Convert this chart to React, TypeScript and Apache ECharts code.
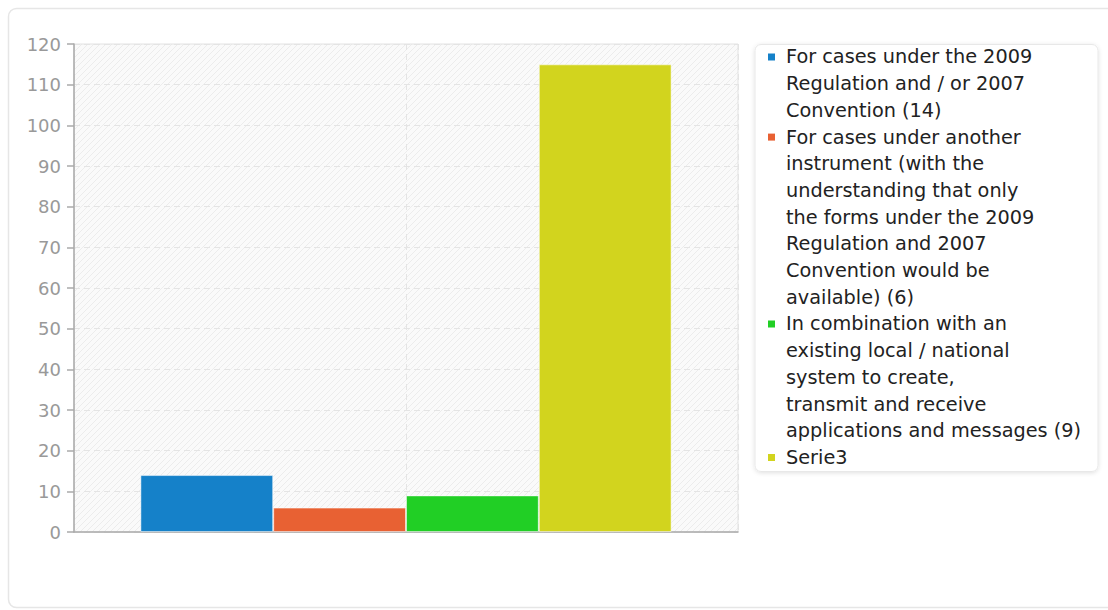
import React, { useEffect, useRef } from "react";
import * as echarts from "echarts";

const categories: string[] = [""];
const seriesNames: string[] = [
  "For cases under the 2009 Regulation and / or 2007 Convention (14)",
  "For cases under another instrument (with the understanding that only the forms under the 2009 Regulation and 2007 Convention would be available) (6)",
  "In combination with an existing local / national system to create, transmit and receive applications and messages (9)",
  "Serie3",
];
const legendLines: string[][] = [
  ["For cases under the 2009", "Regulation and / or 2007", "Convention (14)"],
  [
    "For cases under another",
    "instrument (with the",
    "understanding that only",
    "the forms under the 2009",
    "Regulation and 2007",
    "Convention would be",
    "available) (6)",
  ],
  [
    "In combination with an",
    "existing local / national",
    "system to create,",
    "transmit and receive",
    "applications and messages (9)",
  ],
  ["Serie3"],
];
const seriesValues: number[][] = [[14], [6], [9], [115]];
const seriesColors: string[] = ["#1581C9", "#E86133", "#21CF25", "#D2D41E"];
const yTicks = { min: 0, max: 120, interval: 10 };

const FONT = "'DejaVu Sans', sans-serif";

function makeHatch(): HTMLCanvasElement {
  const c = document.createElement("canvas");
  c.width = 6;
  c.height = 6;
  const ctx = c.getContext("2d")!;
  ctx.fillStyle = "#fafafa";
  ctx.fillRect(0, 0, 6, 6);
  ctx.strokeStyle = "#ececec";
  ctx.lineWidth = 1;
  ctx.beginPath();
  ctx.moveTo(-1, 7);
  ctx.lineTo(7, -1);
  ctx.moveTo(-4, 4);
  ctx.lineTo(4, -4);
  ctx.moveTo(2, 10);
  ctx.lineTo(10, 2);
  ctx.stroke();
  return c;
}

export default function App() {
  const ref = useRef<HTMLDivElement>(null);
  useEffect(() => {
    if (!ref.current) return;
    const chart = echarts.init(ref.current, undefined, { renderer: "svg" });
    const hatch = makeHatch();

    const lineH = 26.7;
    const firstCenter = 57;
    const legendGraphics: any[] = [];
    let lineIdx = 0;
    legendLines.forEach((lines, i) => {
      const center = firstCenter + lineIdx * lineH;
      legendGraphics.push({
        type: "rect",
        shape: { x: 768, y: center - 3.5, width: 7, height: 7 },
        style: { fill: seriesColors[i] },
        z: 12,
      });
      legendGraphics.push({
        type: "text",
        x: 786,
        y: center - lineH / 2,
        style: {
          text: lines.join("\n"),
          font: `19.3px ${FONT}`,
          fill: "#222",
          lineHeight: lineH,
          verticalAlign: "top",
          align: "left",
        },
        z: 12,
      });
      lineIdx += lines.length;
    });

    chart.setOption({
      animation: false,
      backgroundColor: "#fff",
      textStyle: { fontFamily: FONT },
      grid: {
        left: 74,
        right: 370,
        top: 44,
        bottom: 78,
        show: true,
        backgroundColor: { image: hatch, repeat: "repeat", imageWidth: 6, imageHeight: 6 } as any,
        borderColor: "#e2e2e2",
        borderWidth: 1,
      },
      xAxis: [
        {
          type: "category",
          data: categories,
          axisLine: { show: true, lineStyle: { color: "#aaa", width: 1.5 } },
          axisTick: { show: false },
          axisLabel: { show: false },
          splitLine: { show: false },
        },
        {
          type: "value",
          min: 0,
          max: 2,
          interval: 1,
          position: "top",
          axisLine: { show: false },
          axisTick: { show: false },
          axisLabel: { show: false },
          splitLine: { show: true, lineStyle: { color: "#e4e4e4", type: [6, 4], width: 1 } },
        },
      ],
      yAxis: {
        type: "value",
        min: yTicks.min,
        max: yTicks.max,
        interval: yTicks.interval,
        axisLine: { show: true, lineStyle: { color: "#aaa", width: 1.5 } },
        axisTick: { show: true, length: 7, lineStyle: { color: "#aaa", width: 1.5 } },
        axisLabel: { color: "#999", fontSize: 18, margin: 13, fontFamily: FONT },
        splitLine: { show: true, lineStyle: { color: "#e4e4e4", type: [6, 4], width: 1 } },
      },
      series: seriesNames.map((name, i) => ({
        type: "bar",
        name,
        xAxisIndex: 0,
        data: seriesValues[i],
        barGap: "0%",
        barCategoryGap: "20%",
        itemStyle: {
          color: seriesColors[i],
          borderColor: "rgba(255,255,255,0.5)",
          borderWidth: 1,
        },
        z: 3,
      })),
      graphic: [
        {
          type: "rect",
          shape: { x: 8.5, y: 8.5, width: 1120, height: 599, r: 8 },
          style: { fill: "none", stroke: "#e6e6e6", lineWidth: 1.5 },
          z: -10,
          silent: true,
        },
        {
          type: "rect",
          shape: { x: 755, y: 44.5, width: 343, height: 427, r: 6 },
          style: {
            fill: "#fff",
            stroke: "#e8e8e8",
            lineWidth: 1,
            shadowBlur: 4,
            shadowColor: "rgba(0,0,0,0.12)",
            shadowOffsetY: 1,
          },
          z: 10,
        },
        ...legendGraphics,
      ],
    });
    return () => chart.dispose();
  }, []);
  return (
    <div
      ref={ref}
      style={{ position: "fixed", left: 0, top: 0, width: 1108, height: 610 }}
    />
  );
}
